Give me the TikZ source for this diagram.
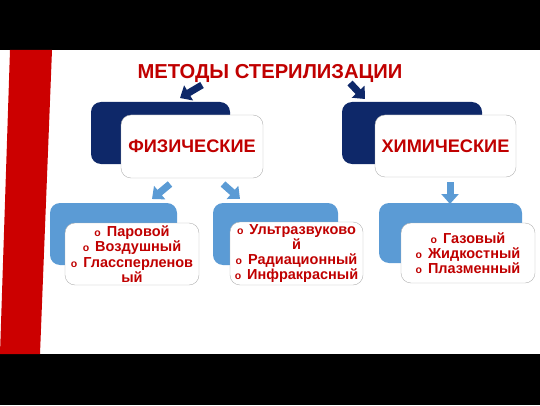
\documentclass[tikz,border=0pt]{standalone}
\usepackage{fontspec}
\setmainfont{Liberation Sans}
\usetikzlibrary{arrows.meta}
\definecolor{navyblue}{RGB}{14,40,105}
\definecolor{lightblue}{RGB}{91,155,213}
\definecolor{darkred}{RGB}{192,0,0}
\definecolor{barred}{RGB}{204,0,0}
\newcommand{\bul}{{\fontsize{10.5}{10}\selectfont o}\hspace{6pt}}
\begin{document}
\begin{tikzpicture}[x=1pt,y=1pt,
    backbox/.style={rounded corners=10pt, inner sep=0pt},
    frontbox/.style={fill=white, draw=gray!60, rounded corners=10pt, inner sep=0pt,
        text=darkred, align=center, font=\bfseries},
    headtext/.style={font=\fontsize{18.2}{20}\selectfont\bfseries},
    listtext/.style={font=\fontsize{14.5}{15.3}\selectfont\bfseries},
    blockarrow/.style={line width=7pt, -{Triangle[width=17pt,length=10pt]}}]
    \useasboundingbox (0,0) rectangle (540,405);
    % Black bands and red bar
    \fill[black] (0,355) rectangle (540,405);
    \fill[black] (0,0) rectangle (540,51);
    \fill[barred] (10,355) -- (52,355) -- (40,51) -- (0,51) -- cycle;

    % Title
    \node[text=darkred, font=\fontsize{20.2}{24}\selectfont\bfseries] (title) at (270,332) {МЕТОДЫ СТЕРИЛИЗАЦИИ};

    % Upper boxes
    \node[backbox, fill=navyblue, minimum width=139pt, minimum height=62pt] (physback) at (160.5,272) {};
    \node[frontbox, headtext, minimum width=142pt, minimum height=63pt] (phys) at (192,258.5) {ФИЗИЧЕСКИЕ};
    \node[backbox, fill=navyblue, minimum width=140pt, minimum height=62pt] (chemback) at (412,272) {};
    \node[frontbox, headtext, minimum width=141pt, minimum height=62pt] (chem) at (445.5,259) {ХИМИЧЕСКИЕ};

    % Lower boxes
    \node[backbox, fill=lightblue, minimum width=127pt, minimum height=62pt] (steamback) at (113.5,171) {};
    \node[frontbox, listtext, minimum width=134pt, minimum height=62pt] (steam) at (132,151)
        {\bul Паровой\\ \bul Воздушный\\ \bul Глассперленов\\ ый};
    \node[backbox, fill=lightblue, minimum width=125pt, minimum height=62pt] (waveback) at (275.5,171) {};
    \node[frontbox, listtext, minimum width=133pt, minimum height=63pt] (wave) at (296.5,151.5)
        {\bul Ультразвуково\\ й\\ \bul Радиационный\\ \bul Инфракрасный};
    \node[backbox, fill=lightblue, minimum width=143pt, minimum height=60pt] (gasback) at (450.5,172) {};
    \node[frontbox, listtext, minimum width=134pt, minimum height=60pt] (gas) at (468,152)
        {\bul Газовый\\ \bul Жидкостный\\ \bul Плазменный};

    % Arrows
    \coordinate (a1) at (202,320); \coordinate (b1) at (180,307);
    \coordinate (a2) at (350,322); \coordinate (b2) at (365,306);
    \coordinate (a3) at (170,221); \coordinate (b3) at (152,206);
    \coordinate (a4) at (223,221); \coordinate (b4) at (240,206);
    \coordinate (a5) at (450,223); \coordinate (b5) at (450,201);
    \draw[blockarrow, navyblue] (a1) -- (b1);
    \draw[blockarrow, navyblue] (a2) -- (b2);
    \draw[blockarrow, lightblue] (a3) -- (b3);
    \draw[blockarrow, lightblue] (a4) -- (b4);
    \draw[blockarrow, lightblue] (a5) -- (b5);
\end{tikzpicture}
\end{document}
